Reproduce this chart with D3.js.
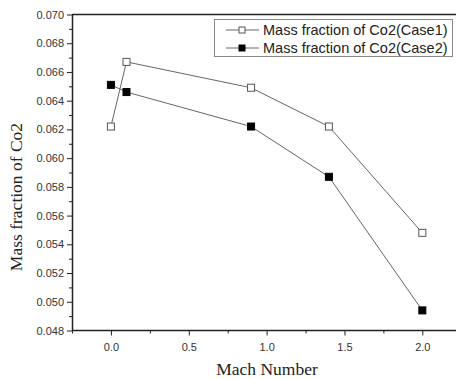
<!DOCTYPE html>
<html><head><meta charset="utf-8">
<script src="https://cdn.jsdelivr.net/npm/d3@7"></script>
<style>body{margin:0;background:#fff}svg{display:block}</style>
</head><body>
<svg id="c" width="456" height="379"></svg>
<script>
const mach = [0.0, 0.1, 0.9, 1.4, 2.0];
const case1 = [0.0622, 0.0667, 0.0649, 0.0622, 0.0548];
const case2 = [0.0651, 0.0646, 0.0622, 0.0587, 0.0494];
const seriesNames = ["Mass fraction of Co2(Case1)", "Mass fraction of Co2(Case2)"];
const xTicks = [0.0, 0.5, 1.0, 1.5, 2.0];
const yTicks = [0.048,0.050,0.052,0.054,0.056,0.058,0.060,0.062,0.064,0.066,0.068,0.070];

const svg = d3.select("#c");
const L = 72, T = 14.5, B = 330.5;
const x = d3.scaleLinear().domain([-0.25, 2.25]).range([L, L + 2.5*155.7]);
const y = d3.scaleLinear().domain([0.048, 0.070]).range([B, T]);
const sans = "'Liberation Sans', Arial, sans-serif";
const serif = "'Liberation Serif', 'Times New Roman', serif";

// top border
svg.append("line").attr("x1", L).attr("x2", 456).attr("y1", T).attr("y2", T).attr("stroke", "#222").attr("stroke-width", 1.5);

// x axis
const xa = svg.append("g").attr("transform", `translate(0,${B})`)
  .call(d3.axisBottom(x).tickValues(xTicks).tickFormat(d3.format(".1f")).tickSize(5).tickSizeOuter(0));
svg.append("g").attr("transform", `translate(0,${B})`)
  .call(d3.axisBottom(x).tickValues(d3.range(-0.25, 2.26, 0.25).filter(v => Math.abs(v*2 - Math.round(v*2)) > 1e-6)).tickFormat("").tickSize(3).tickSizeOuter(0))
  .select(".domain").remove();
xa.select(".domain").attr("d", `M${L},0H456`).attr("stroke-width", 1.5).attr("stroke", "#222");

// y axis
const ya = svg.append("g").attr("transform", `translate(${L},0)`)
  .call(d3.axisLeft(y).tickValues(yTicks).tickFormat(d3.format(".3f")).tickSize(5).tickSizeOuter(0));
svg.append("g").attr("transform", `translate(${L},0)`)
  .call(d3.axisLeft(y).tickValues(d3.range(0.049, 0.0705, 0.002)).tickFormat("").tickSize(3).tickSizeOuter(0))
  .select(".domain").remove();
ya.select(".domain").attr("stroke-width", 1.5).attr("stroke", "#222");

svg.selectAll(".tick line").attr("stroke", "#222");
svg.selectAll(".tick text").attr("font-family", sans).attr("font-size", 11).attr("fill", "#333");
xa.selectAll(".tick text").attr("dy", "1.1em");

// titles
svg.append("text").attr("x", 267).attr("y", 375).attr("text-anchor", "middle")
  .attr("font-family", serif).attr("font-size", 17.5).attr("fill", "#222").text("Mach Number");
svg.append("text").attr("transform", `translate(22,197) rotate(-90)`).attr("text-anchor", "middle")
  .attr("font-family", serif).attr("font-size", 17.5).attr("fill", "#222").text("Mass fraction of Co2");

// series
const line = d3.line().x(d => x(d[0])).y(d => y(d[1]));
const data = [case1, case2].map(s => mach.map((m, i) => [m, s[i]]));
const fills = ["#fff", "#000"];
data.forEach((d, k) => {
  svg.append("path").attr("d", line(d)).attr("fill", "none").attr("stroke", "#666").attr("stroke-width", 1);
  svg.selectAll(null).data(d).enter().append("rect")
    .attr("x", p => x(p[0]) - 3.5).attr("y", p => y(p[1]) - 3.5).attr("width", 7).attr("height", 7)
    .attr("fill", fills[k]).attr("stroke", k ? "#000" : "#555").attr("stroke-width", 1);
});

// legend
const lg = svg.append("g");
lg.append("rect").attr("x", 214.5).attr("y", 19.5).attr("width", 238).attr("height", 37)
  .attr("fill", "#fff").attr("stroke", "#888").attr("stroke-width", 1);
seriesNames.forEach((n, k) => {
  const yy = 30 + k*18;
  lg.append("line").attr("x1", 226).attr("x2", 259).attr("y1", yy).attr("y2", yy).attr("stroke", "#666");
  lg.append("rect").attr("x", 239).attr("y", yy - 3).attr("width", 6).attr("height", 6)
    .attr("fill", fills[k]).attr("stroke", k ? "#000" : "#555");
  lg.append("text").attr("x", 263).attr("y", yy + 5).attr("font-family", sans).attr("font-size", 14.5)
    .attr("fill", "#222").text(n);
});
</script>
</body></html>
